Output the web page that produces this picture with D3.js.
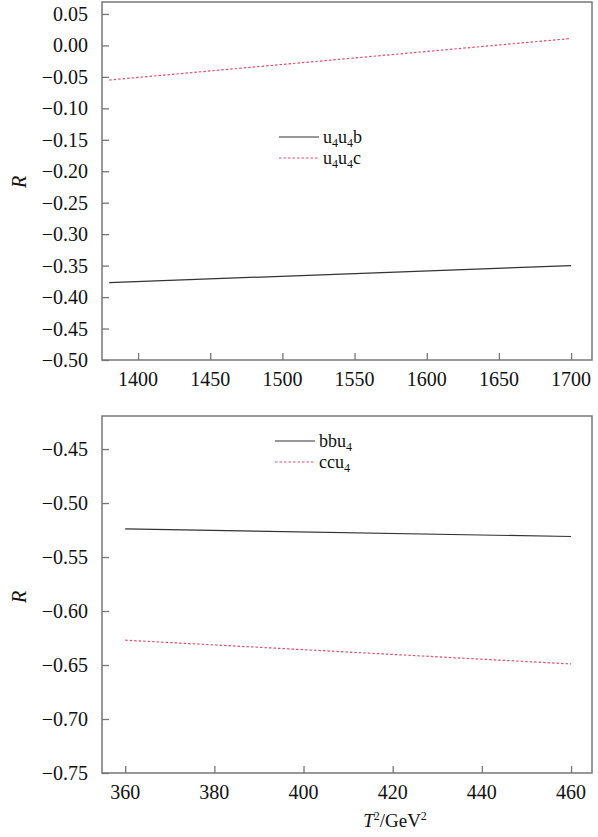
<!DOCTYPE html>
<html>
<meta charset="utf-8">
<style>
    body { margin: 0; background: #fff; }
    svg text { font-family: 'Liberation Serif', 'Times New Roman', Times, 'DejaVu Serif', serif; fill: #111; }
    .frame { fill: none; stroke: #777; stroke-width: 1.5px; }
    .line { fill: none; stroke-width: 1.2px; }
</style>
<body>
<script src="https://d3js.org/d3.v7.min.js"></script>
<script>

    // top panel data
    var topX = [1380, 1700];
    var u4u4b = [-0.377, -0.350];
    var u4u4c = [-0.055, 0.011];
    var topXTicks = [1400, 1450, 1500, 1550, 1600, 1650, 1700];
    var topYTicks = [0.05, 0.00, -0.05, -0.10, -0.15, -0.20, -0.25, -0.30, -0.35, -0.40, -0.45, -0.50];

    // bottom panel data
    var botX = [360, 460];
    var bbu4 = [-0.524, -0.531];
    var ccu4 = [-0.627, -0.649];
    var botXTicks = [360, 380, 400, 420, 440, 460];
    var botYTicks = [-0.45, -0.50, -0.55, -0.60, -0.65, -0.70, -0.75];

    var serif = "'Liberation Serif', 'Times New Roman', Times, 'DejaVu Serif', serif";

    var svg = d3.select("body").append("svg")
        .attr("width", 598)
        .attr("height", 837)
        .attr("font-family", serif);

    var fmt = function (d) { return d3.format(".2f")(d).replace("-", "\u2212"); };

    function panel(opt) {
        var g = svg.append("g");
        var x = d3.scaleLinear().domain(opt.xDomain).range([102, 592]);
        var y = d3.scaleLinear().domain(opt.yDomain).range([opt.bottom, opt.top]);

        // frame
        g.append("rect").attr("class", "frame")
            .attr("x", 102).attr("y", opt.top)
            .attr("width", 490).attr("height", opt.bottom - opt.top);

        // y ticks (inward)
        var ya = g.append("g").attr("transform", "translate(102,0)")
            .call(d3.axisRight(y).tickValues(opt.yTicks).tickSize(7).tickFormat(""));
        ya.select(".domain").remove();
        ya.selectAll("line").attr("stroke", "#777").attr("stroke-width", 1.3);
        g.selectAll(".ylab").data(opt.yTicks).enter().append("text")
            .attr("x", 88).attr("y", function (d) { return y(d); })
            .attr("dy", "0.35em")
            .attr("text-anchor", "end")
            .style("font-size", "20px")
            .text(fmt);

        // x ticks (inward)
        var xa = g.append("g").attr("transform", "translate(0," + opt.bottom + ")")
            .call(d3.axisTop(x).tickValues(opt.xTicks).tickSize(7).tickFormat(""));
        xa.select(".domain").remove();
        xa.selectAll("line").attr("stroke", "#777").attr("stroke-width", 1.3);
        g.selectAll(".xlab").data(opt.xTicks).enter().append("text")
            .attr("x", function (d) { return x(d); })
            .attr("y", opt.bottom + 26)
            .attr("text-anchor", "middle")
            .style("font-size", "20px")
            .text(function (d) { return d; });

        // y label
        g.append("text")
            .attr("transform", "translate(26," + opt.labelY + ") rotate(-90)")
            .attr("text-anchor", "middle")
            .style("font-size", "20px")
            .style("font-style", "italic")
            .text("R");

        var line = d3.line()
            .x(function (d) { return x(d[0]); })
            .y(function (d) { return y(d[1]); });

        opt.series.forEach(function (s) {
            var p = g.append("path")
                .datum(d3.zip(opt.xs, s.values))
                .attr("class", "line")
                .attr("stroke", s.color)
                .attr("d", line);
            if (s.dash) p.attr("stroke-dasharray", s.dash);
        });

        // legend
        opt.series.forEach(function (s, i) {
            var ly = opt.legY + i * 21;
            var l = g.append("line")
                .attr("x1", opt.legX).attr("x2", opt.legX + 40)
                .attr("y1", ly).attr("y2", ly)
                .attr("stroke", s.color).attr("stroke-width", 1.2);
            if (s.dash) l.attr("stroke-dasharray", s.dash);
            var t = g.append("text")
                .attr("x", opt.legX + 44).attr("y", ly).attr("dy", "0.35em")
                .style("font-size", "18px");
            s.label.forEach(function (part) {
                var ts = t.append("tspan").text(part[0]);
                if (part[1]) ts.style("font-size", "12px").attr("dy", "4");
                else ts.attr("dy", part[2] ? "-4" : null);
            });
        });
        return { x: x, y: y };
    }

    panel({
        xDomain: [1375, 1714.5], yDomain: [-0.50, 0.069],
        top: 2, bottom: 360, labelY: 182,
        xTicks: topXTicks, yTicks: topYTicks, xs: topX,
        legX: 279, legY: 137,
        series: [
            { values: u4u4b, color: "#333", label: [["u"], ["4", true], ["u", false, true], ["4", true], ["b", false, true]] },
            { values: u4u4c, color: "#e0506a", dash: "2.5,2", label: [["u"], ["4", true], ["u", false, true], ["4", true], ["c", false, true]] }
        ]
    });

    panel({
        xDomain: [354.8, 464.7], yDomain: [-0.75, -0.4194],
        top: 416, bottom: 773, labelY: 597,
        xTicks: botXTicks, yTicks: botYTicks, xs: botX,
        legX: 275, legY: 441,
        series: [
            { values: bbu4, color: "#333", label: [["bbu"], ["4", true]] },
            { values: ccu4, color: "#e0506a", dash: "2.5,2", label: [["ccu"], ["4", true]] }
        ]
    });

    // x axis title
    var xt = svg.append("text")
        .attr("x", 395).attr("y", 827)
        .attr("text-anchor", "middle")
        .style("font-size", "19px");
    xt.append("tspan").style("font-style", "italic").text("T");
    xt.append("tspan").style("font-size", "12px").attr("dy", "-7").text("2");
    xt.append("tspan").attr("dy", "7").text("/GeV");
    xt.append("tspan").style("font-size", "12px").attr("dy", "-7").text("2");

</script>
</body>
</html>
